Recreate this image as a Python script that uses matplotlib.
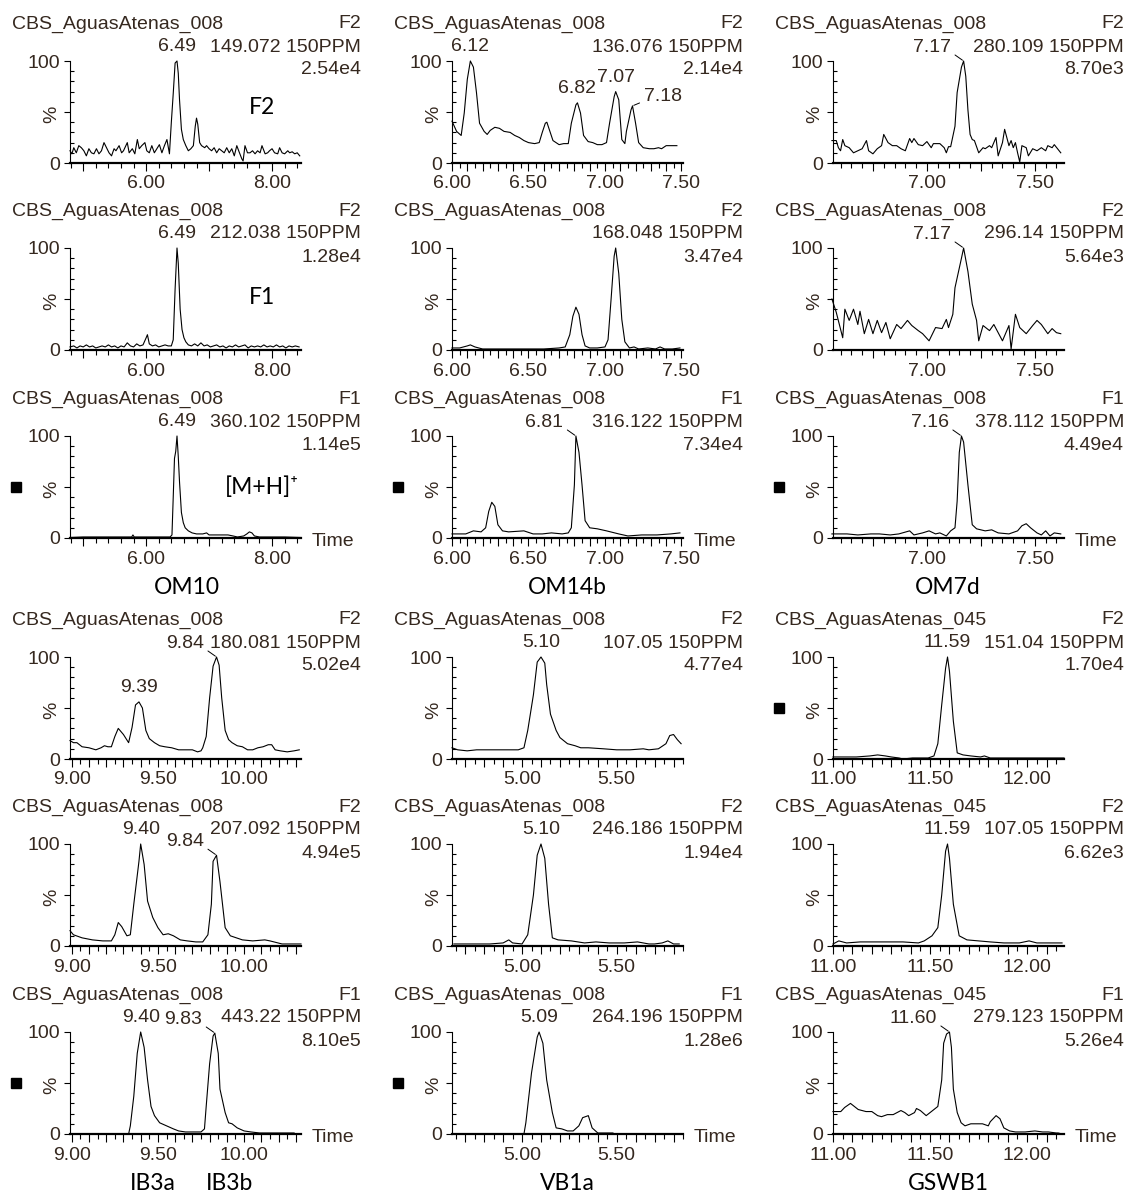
# chromatogram panels (extracted ion traces), 6 rows x 3 columns
import matplotlib.pyplot as plt
from matplotlib.ticker import MultipleLocator, FuncFormatter
from matplotlib.patches import Rectangle

plt.rcParams["font.family"] = ["Liberation Sans", "DejaVu Sans"]

# ========================================
# data: retention time (min) / intensity (%)
# ========================================
# OM10
t_149 = [4.79, 4.82, 4.85, 4.89, 4.93, 4.97, 5.01, 5.05, 5.09, 5.13,
         5.17, 5.21, 5.25, 5.29, 5.33, 5.37, 5.41, 5.45, 5.49, 5.52,
         5.57, 5.61, 5.64, 5.70, 5.73, 5.78, 5.82, 5.86, 5.89, 5.93,
         5.98, 6.01, 6.05, 6.09, 6.13, 6.17, 6.21, 6.25, 6.29, 6.33,
         6.37, 6.40, 6.43, 6.46, 6.49, 6.51, 6.53, 6.56, 6.59, 6.63,
         6.67, 6.71, 6.75, 6.78, 6.80, 6.82, 6.85, 6.88, 6.93, 6.96,
         7.00, 7.04, 7.08, 7.12, 7.16, 7.20, 7.24, 7.28, 7.32, 7.36,
         7.40, 7.44, 7.47, 7.52, 7.54, 7.57, 7.61, 7.65, 7.69, 7.73,
         7.77, 7.81, 7.84, 7.89, 7.93, 7.96, 8.00, 8.04, 8.09, 8.12,
         8.16, 8.20, 8.25, 8.28, 8.32, 8.36, 8.40, 8.44]
i_149 = [12, 9, 15, 10, 17, 15, 12, 7, 14, 10,
         9, 14, 9, 12, 20, 15, 10, 7, 14, 12,
         17, 10, 12, 20, 10, 14, 9, 23, 14, 17,
         20, 12, 10, 17, 10, 14, 18, 10, 17, 23,
         9, 40, 68, 98, 100, 88, 62, 33, 23, 17,
         12, 14, 17, 36, 44, 38, 20, 17, 15, 17,
         14, 12, 15, 10, 14, 12, 10, 15, 10, 14,
         7, 17, 12, 4, 2, 17, 10, 10, 12, 9,
         12, 10, 17, 9, 10, 12, 14, 10, 9, 15,
         10, 9, 12, 10, 11, 9, 10, 7]

t_212 = [4.79, 4.85, 4.90, 4.95, 5.00, 5.05, 5.10, 5.15, 5.20, 5.25,
         5.30, 5.35, 5.40, 5.45, 5.50, 5.55, 5.60, 5.65, 5.70, 5.75,
         5.80, 5.85, 5.90, 5.95, 6.00, 6.02, 6.05, 6.10, 6.15, 6.20,
         6.25, 6.30, 6.35, 6.40, 6.43, 6.46, 6.49, 6.51, 6.54, 6.57,
         6.60, 6.63, 6.67, 6.72, 6.77, 6.82, 6.87, 6.92, 6.97, 7.02,
         7.07, 7.12, 7.17, 7.22, 7.27, 7.32, 7.37, 7.42, 7.47, 7.52,
         7.57, 7.62, 7.67, 7.72, 7.77, 7.82, 7.87, 7.92, 7.97, 8.02,
         8.07, 8.12, 8.17, 8.22, 8.27, 8.32, 8.37, 8.43]
i_212 = [3, 4, 2, 4, 3, 5, 3, 4, 2, 3,
         4, 3, 5, 3, 4, 2, 4, 3, 7, 4,
         3, 6, 4, 5, 12, 15, 6, 4, 5, 3,
         4, 5, 4, 4, 10, 60, 100, 85, 40, 20,
         12, 8, 5, 4, 6, 4, 7, 4, 5, 3,
         4, 5, 3, 4, 2, 4, 3, 5, 3, 4,
         5, 2, 4, 3, 4, 3, 5, 3, 4, 3,
         5, 3, 4, 2, 4, 3, 4, 3]

t_360 = [4.79, 5.00, 5.30, 5.60, 5.77, 5.79, 5.81, 6.00, 6.20, 6.38,
         6.41, 6.43, 6.45, 6.47, 6.49, 6.51, 6.53, 6.56, 6.59, 6.62,
         6.67, 6.73, 6.80, 6.90, 6.96, 7.00, 7.10, 7.20, 7.30, 7.38,
         7.45, 7.55, 7.60, 7.64, 7.68, 7.72, 7.80, 8.00, 8.20, 8.46]
i_360 = [0.5, 1, 1, 1, 1, 3, 1, 1, 1, 1,
         3, 40, 78, 85, 100, 80, 55, 25, 15, 10,
         7, 5, 4, 4, 5, 3, 3, 3, 3, 2,
         1, 2, 4, 6, 5, 2, 1, 1, 1, 0.5]

# OM14b
t_136 = [6.00, 6.03, 6.06, 6.08, 6.10, 6.12, 6.14, 6.16, 6.18, 6.21,
         6.23, 6.25, 6.28, 6.31, 6.34, 6.38, 6.41, 6.44, 6.47, 6.50,
         6.54, 6.57, 6.59, 6.61, 6.62, 6.64, 6.66, 6.70, 6.73, 6.76,
         6.78, 6.81, 6.82, 6.84, 6.86, 6.89, 6.92, 6.95, 6.98, 7.01,
         7.03, 7.06, 7.07, 7.09, 7.11, 7.13, 7.14, 7.17, 7.18, 7.20,
         7.22, 7.25, 7.29, 7.32, 7.35, 7.37, 7.40, 7.43, 7.47]
i_136 = [41, 31, 27, 49, 82, 100, 94, 69, 39, 31,
         28, 32, 35, 34, 31, 30, 27, 25, 22, 20,
         19, 20, 30, 39, 40, 31, 22, 18, 19, 19,
         39, 57, 59, 49, 27, 21, 20, 18, 18, 20,
         39, 65, 70, 62, 23, 19, 31, 52, 56, 39,
         20, 15, 14, 14, 15, 14, 17, 17, 17]

t_168 = [6.00, 6.05, 6.10, 6.12, 6.15, 6.20, 6.30, 6.40, 6.50, 6.60,
         6.70, 6.74, 6.77, 6.79, 6.81, 6.83, 6.85, 6.87, 6.90, 6.95,
         7.00, 7.02, 7.04, 7.06, 7.07, 7.09, 7.11, 7.13, 7.16, 7.19,
         7.22, 7.28, 7.33, 7.36, 7.39, 7.44, 7.49]
i_168 = [2, 2, 4, 5, 3, 1, 1, 1, 1, 1,
         2, 3, 15, 33, 42, 35, 15, 4, 2, 2,
         3, 10, 50, 92, 100, 75, 30, 8, 2, 3,
         1, 2, 1, 3, 1, 1, 2]

t_316 = [6.00, 6.09, 6.14, 6.19, 6.22, 6.24, 6.26, 6.28, 6.30, 6.33,
         6.37, 6.47, 6.53, 6.59, 6.65, 6.72, 6.76, 6.78, 6.80, 6.81,
         6.83, 6.85, 6.87, 6.90, 6.95, 7.01, 7.09, 7.15, 7.24, 7.34,
         7.43, 7.49]
i_316 = [4, 4, 7, 6, 10, 26, 35, 31, 13, 7,
         6, 7, 4, 4, 5, 4, 5, 10, 52, 100,
         84, 52, 17, 10, 9, 7, 4, 2, 3, 3,
         4, 5]

# OM7d
t_280 = [6.56, 6.58, 6.59, 6.60, 6.61, 6.62, 6.64, 6.66, 6.68, 6.70,
         6.72, 6.73, 6.75, 6.77, 6.79, 6.80, 6.82, 6.84, 6.86, 6.88,
         6.90, 6.92, 6.93, 6.94, 6.96, 6.98, 7.00, 7.02, 7.03, 7.06,
         7.08, 7.09, 7.10, 7.11, 7.13, 7.14, 7.16, 7.17, 7.18, 7.19,
         7.20, 7.21, 7.22, 7.24, 7.26, 7.27, 7.29, 7.30, 7.32, 7.33,
         7.35, 7.36, 7.38, 7.39, 7.40, 7.41, 7.42, 7.43, 7.44, 7.46,
         7.47, 7.49, 7.51, 7.53, 7.55, 7.56, 7.58, 7.59, 7.62]
i_280 = [22, 22, 15, 12, 23, 17, 15, 10, 12, 14,
         22, 12, 9, 14, 17, 28, 20, 17, 17, 14,
         12, 24, 20, 24, 18, 17, 21, 15, 19, 19,
         15, 10, 16, 16, 36, 69, 94, 100, 85, 52,
         28, 23, 22, 10, 15, 14, 17, 15, 25, 7,
         20, 33, 17, 22, 15, 20, 10, 1, 17, 15,
         7, 14, 12, 15, 12, 17, 15, 18, 10]

t_296 = [6.56, 6.58, 6.61, 6.62, 6.64, 6.66, 6.68, 6.69, 6.71, 6.73,
         6.75, 6.77, 6.79, 6.81, 6.83, 6.86, 6.88, 6.91, 6.93, 6.96,
         6.98, 7.01, 7.04, 7.07, 7.09, 7.10, 7.12, 7.13, 7.16, 7.17,
         7.19, 7.21, 7.23, 7.24, 7.26, 7.29, 7.31, 7.33, 7.35, 7.38,
         7.39, 7.41, 7.43, 7.46, 7.49, 7.51, 7.53, 7.56, 7.58, 7.60,
         7.62]
i_296 = [50, 37, 12, 40, 29, 40, 25, 38, 16, 30,
         16, 29, 17, 27, 11, 25, 21, 29, 24, 19,
         16, 9, 22, 21, 30, 22, 35, 61, 90, 100,
         77, 45, 29, 9, 24, 19, 25, 17, 9, 24,
         1, 35, 22, 16, 24, 29, 25, 16, 21, 17,
         16]

t_378 = [6.56, 6.63, 6.68, 6.74, 6.78, 6.83, 6.87, 6.92, 6.94, 6.98,
         7.01, 7.04, 7.06, 7.09, 7.11, 7.13, 7.14, 7.15, 7.16, 7.17,
         7.19, 7.21, 7.23, 7.27, 7.30, 7.33, 7.38, 7.42, 7.44, 7.46,
         7.48, 7.51, 7.53, 7.55, 7.57, 7.59, 7.62]
i_378 = [4, 4, 3, 4, 4, 3, 4, 7, 3, 5,
         7, 4, 5, 2, 7, 10, 36, 84, 100, 94,
         52, 13, 9, 7, 8, 5, 4, 7, 12, 14,
         10, 5, 3, 7, 2, 5, 4]

# IB3a / IB3b
t_180 = [8.99, 9.01, 9.03, 9.06, 9.10, 9.14, 9.17, 9.19, 9.21, 9.23,
         9.25, 9.27, 9.30, 9.33, 9.35, 9.37, 9.39, 9.41, 9.43, 9.45,
         9.48, 9.51, 9.54, 9.58, 9.62, 9.66, 9.70, 9.73, 9.75, 9.76,
         9.78, 9.80, 9.82, 9.84, 9.855, 9.87, 9.89, 9.91, 9.93, 9.96,
         9.99, 10.02, 10.05, 10.08, 10.11, 10.14, 10.16, 10.18, 10.21, 10.25,
         10.29, 10.32]
i_180 = [18, 16, 16, 12, 11, 9, 11, 13, 12, 12,
         22, 30, 24, 16, 31, 53, 56, 50, 28, 20,
         16, 13, 12, 11, 9, 9, 9, 7, 8, 11,
         22, 60, 91, 100, 92, 60, 28, 19, 16, 13,
         12, 9, 9, 11, 12, 14, 14, 9, 8, 7,
         8, 9]

t_207 = [8.99, 9.01, 9.06, 9.12, 9.18, 9.23, 9.25, 9.27, 9.29, 9.32,
         9.34, 9.36, 9.39, 9.40, 9.42, 9.44, 9.47, 9.50, 9.53, 9.56,
         9.59, 9.63, 9.67, 9.72, 9.76, 9.79, 9.81, 9.82, 9.84, 9.86,
         9.89, 9.92, 9.99, 10.05, 10.12, 10.15, 10.22, 10.28, 10.33]
i_207 = [15, 11, 8, 6, 5, 5, 11, 23, 19, 10,
         11, 41, 83, 100, 80, 44, 28, 18, 11, 12,
         10, 6, 5, 4, 4, 11, 41, 83, 89, 63,
         18, 10, 6, 5, 6, 5, 2, 2, 2]

t_443 = [8.99, 9.33, 9.34, 9.36, 9.38, 9.40, 9.42, 9.44, 9.46, 9.48,
         9.51, 9.55, 9.59, 9.62, 9.66, 9.70, 9.75, 9.77, 9.78, 9.80,
         9.82, 9.83, 9.85, 9.86, 9.89, 9.91, 9.93, 9.96, 10.00, 10.04,
         10.09, 10.15, 10.22, 10.29]
i_443 = [0, 0, 8, 37, 79, 100, 85, 53, 27, 18,
         11, 8, 5, 3, 2, 2, 2, 5, 27, 69,
         96, 99, 79, 44, 21, 11, 10, 6, 3, 2,
         1, 1, 1, 1]

# VB1a
t_107a = [4.63, 4.66, 4.71, 4.76, 4.83, 4.91, 4.98, 5.01, 5.03, 5.06,
          5.08, 5.10, 5.12, 5.13, 5.15, 5.18, 5.20, 5.24, 5.28, 5.31,
          5.35, 5.43, 5.50, 5.57, 5.64, 5.67, 5.72, 5.76, 5.78, 5.80,
          5.82, 5.84]
i_107a = [11, 9, 8, 9, 9, 9, 9, 11, 28, 63,
          95, 100, 94, 73, 44, 28, 21, 15, 13, 11,
          11, 10, 9, 9, 10, 9, 10, 15, 23, 24,
          19, 15]

t_246 = [4.64, 4.72, 4.83, 4.90, 4.93, 4.95, 5.00, 5.03, 5.06, 5.08,
         5.10, 5.12, 5.14, 5.16, 5.19, 5.26, 5.33, 5.39, 5.46, 5.54,
         5.61, 5.67, 5.70, 5.74, 5.77, 5.80, 5.83]
i_246 = [2, 2, 2, 3, 6, 3, 2, 11, 50, 89,
         100, 86, 41, 8, 6, 5, 3, 4, 3, 3,
         4, 2, 2, 3, 5, 2, 2]

t_264 = [4.63, 5.01, 5.02, 5.05, 5.08, 5.09, 5.11, 5.13, 5.16, 5.18,
         5.21, 5.24, 5.27, 5.30, 5.32, 5.35, 5.37, 5.40, 5.48]
i_264 = [0, 0, 11, 60, 95, 100, 89, 53, 21, 6,
         5, 3, 3, 8, 16, 18, 6, 1, 1]

# GSWB1
t_151 = [11.00, 11.12, 11.19, 11.23, 11.27, 11.30, 11.34, 11.36, 11.41, 11.49,
         11.52, 11.54, 11.56, 11.58, 11.59, 11.60, 11.62, 11.64, 11.67, 11.71,
         11.76, 11.78, 11.81, 11.91, 12.05, 12.19]
i_151 = [2, 2, 3, 4, 3, 2, 1, 0, 1, 1,
         3, 15, 53, 89, 100, 86, 37, 6, 4, 3,
         2, 3, 1, 1, 1, 1]

t_107b = [11.00, 11.03, 11.07, 11.14, 11.25, 11.36, 11.44, 11.47, 11.51, 11.54,
          11.56, 11.58, 11.59, 11.60, 11.62, 11.65, 11.69, 11.75, 11.81, 11.88,
          11.96, 12.01, 12.05, 12.10, 12.18]
i_107b = [2, 5, 3, 4, 4, 4, 3, 5, 10, 18,
          50, 93, 100, 86, 41, 10, 6, 5, 4, 3,
          3, 5, 3, 3, 3]

t_279 = [11.00, 11.04, 11.06, 11.09, 11.11, 11.13, 11.17, 11.20, 11.23, 11.25,
         11.28, 11.31, 11.33, 11.35, 11.37, 11.39, 11.42, 11.43, 11.45, 11.48,
         11.50, 11.52, 11.54, 11.56, 11.57, 11.585, 11.60, 11.61, 11.62, 11.64,
         11.66, 11.68, 11.71, 11.74, 11.77, 11.80, 11.81, 11.84, 11.86, 11.88,
         11.91, 11.94, 11.99, 12.04, 12.08, 12.11, 12.15, 12.16, 12.18]
i_279 = [22, 22, 26, 30, 27, 24, 22, 22, 18, 17,
         19, 19, 21, 23, 21, 18, 21, 25, 23, 18,
         21, 24, 27, 53, 89, 98, 100, 85, 44, 21,
         11, 8, 10, 10, 10, 8, 12, 18, 15, 6,
         3, 2, 2, 3, 2, 2, 1, 1, 0]

# ========================================
# panel info: row, col, trace, sample, function, mass, max intensity
# ========================================
panels = [
    (0, 0, t_149, i_149, "008", "F2", "149.072 150PPM", "2.54e4"),
    (0, 1, t_136, i_136, "008", "F2", "136.076 150PPM", "2.14e4"),
    (0, 2, t_280, i_280, "008", "F2", "280.109 150PPM", "8.70e3"),
    (1, 0, t_212, i_212, "008", "F2", "212.038 150PPM", "1.28e4"),
    (1, 1, t_168, i_168, "008", "F2", "168.048 150PPM", "3.47e4"),
    (1, 2, t_296, i_296, "008", "F2", "296.14 150PPM", "5.64e3"),
    (2, 0, t_360, i_360, "008", "F1", "360.102 150PPM", "1.14e5"),
    (2, 1, t_316, i_316, "008", "F1", "316.122 150PPM", "7.34e4"),
    (2, 2, t_378, i_378, "008", "F1", "378.112 150PPM", "4.49e4"),
    (3, 0, t_180, i_180, "008", "F2", "180.081 150PPM", "5.02e4"),
    (3, 1, t_107a, i_107a, "008", "F2", "107.05 150PPM", "4.77e4"),
    (3, 2, t_151, i_151, "045", "F2", "151.04 150PPM", "1.70e4"),
    (4, 0, t_207, i_207, "008", "F2", "207.092 150PPM", "4.94e5"),
    (4, 1, t_246, i_246, "008", "F2", "246.186 150PPM", "1.94e4"),
    (4, 2, t_107b, i_107b, "045", "F2", "107.05 150PPM", "6.62e3"),
    (5, 0, t_443, i_443, "008", "F1", "443.22 150PPM", "8.10e5"),
    (5, 1, t_264, i_264, "008", "F1", "264.196 150PPM", "1.28e6"),
    (5, 2, t_279, i_279, "045", "F1", "279.123 150PPM", "5.26e4"),
]

# peak labels: (row, col, time, height, text, placement)
peaks = [
    (0, 0, 6.49, 100, "6.49", "c"),
    (0, 1, 6.12, 100, "6.12", "c"),
    (0, 1, 6.82, 59, "6.82", "c"),
    (0, 1, 7.07, 70, "7.07", "c"),
    (0, 1, 7.18, 56, "7.18", "r"),
    (0, 2, 7.17, 100, "7.17", "l"),
    (1, 0, 6.49, 100, "6.49", "c"),
    (1, 2, 7.17, 100, "7.17", "l"),
    (2, 0, 6.49, 100, "6.49", "c"),
    (2, 1, 6.81, 100, "6.81", "l"),
    (2, 2, 7.16, 100, "7.16", "l"),
    (3, 0, 9.39, 56, "9.39", "c"),
    (3, 0, 9.84, 100, "9.84", "l"),
    (3, 1, 5.10, 100, "5.10", "c"),
    (3, 2, 11.59, 100, "11.59", "c"),
    (4, 0, 9.40, 100, "9.40", "c"),
    (4, 0, 9.84, 89, "9.84", "l"),
    (4, 1, 5.10, 100, "5.10", "c"),
    (4, 2, 11.59, 100, "11.59", "c"),
    (5, 0, 9.40, 100, "9.40", "c"),
    (5, 0, 9.83, 99, "9.83", "l"),
    (5, 1, 5.09, 100, "5.09", "c"),
    (5, 2, 11.60, 100, "11.60", "l"),
]

# x axis per block (rows 0-2 / rows 3-5) and column
xlims = {(0, 0): (4.79, 8.46), (0, 1): (6.0, 7.51), (0, 2): (6.565, 7.635),
         (1, 0): (8.99, 10.33), (1, 1): (4.63, 5.85), (1, 2): (11.0, 12.19)}
xticks = {(0, 0): (1.0, 0.2, [6.0, 8.0]),
          (0, 1): (0.1, 0.05, [6.0, 6.5, 7.0, 7.5]),
          (0, 2): (0.25, 0.05, [7.0, 7.5]),
          (1, 0): (0.1, 0.05, [9.0, 9.5, 10.0]),
          (1, 1): (0.1, 0.05, [5.0, 5.5]),
          (1, 2): (0.1, 0.05, [11.0, 11.5, 12.0])}

compounds = [("OM10", 187, 588), ("OM14b", 567, 588), ("OM7d", 948, 588),
             ("IB3a", 153, 1184), ("IB3b", 230, 1184), ("VB1a", 567, 1184),
             ("GSWB1", 948, 1184)]
squares = [(2, 0), (2, 1), (2, 2), (3, 2), (5, 0), (5, 1)]

# ========================================
# layout (pixels)
# ========================================
W, H = 1126, 1195
TXT = "#35281f"
col_x = [70, 452, 833]
row_top = [61, 248, 436, 657, 844, 1032]
AX_W, AX_H = 231, 102
FS = 14

fig = plt.figure(figsize=(W / 100, H / 100), dpi=100)


def ftext(x, y, s, **kw):
    fig.text(x / W, 1 - y / H, s, **kw)


def make_fmt(labels):
    return FuncFormatter(
        lambda v, p: f"{v:.2f}" if min(abs(v - l) for l in labels) < 1e-6 else "")


axes = {}
for r, c, t, inten, run, fn, mass, imax in panels:
    x0, y0 = col_x[c], row_top[r]
    ax = fig.add_axes([x0 / W, 1 - (y0 + AX_H) / H, AX_W / W, AX_H / H])
    axes[(r, c)] = ax
    ax.plot(t, inten, color="black", lw=0.8, clip_on=False)

    blk = (r // 3, c)
    ax.set_xlim(*xlims[blk])
    ax.set_ylim(0, 100)
    major, minor, labs = xticks[blk]
    ax.xaxis.set_major_locator(MultipleLocator(major))
    ax.xaxis.set_minor_locator(MultipleLocator(minor))
    ax.xaxis.set_major_formatter(make_fmt(labs))
    ax.set_yticks([0, 50, 100], ["0", "%", "100"])
    ax.get_yticklabels()[1].set_rotation(90)
    ax.yaxis.set_minor_locator(MultipleLocator(10))

    for s in ["top", "right"]:
        ax.spines[s].set_visible(False)
    ax.spines["left"].set_linewidth(0.8)
    ax.spines["bottom"].set_linewidth(1.6)
    ax.tick_params(axis="x", which="major", direction="out", length=6,
                   width=0.8, pad=3, labelsize=FS, labelcolor=TXT)
    ax.tick_params(axis="x", which="minor", direction="out", length=3.5, width=0.8)
    ax.tick_params(axis="y", which="major", direction="out", length=4,
                   width=0.8, pad=3, labelsize=FS, labelcolor=TXT)
    ax.tick_params(axis="y", which="minor", direction="in", length=3, width=0.8)
    ax.patch.set_alpha(0)

    # header text
    ftext(x0 - 58, y0 - 37, "CBS_AguasAtenas_" + run, fontsize=FS, color=TXT,
          ha="left", va="center")
    ftext(x0 + 291, y0 - 37, fn, fontsize=FS, color=TXT, ha="right", va="center")
    ftext(x0 + 291, y0 - 14, mass, fontsize=FS, color=TXT, ha="right", va="center")
    ftext(x0 + 291, y0 + 9, imax, fontsize=FS, color=TXT, ha="right", va="center")
    if r in (2, 5):
        ftext(x0 + AX_W + 11, y0 + AX_H + 4, "Time", fontsize=FS, color=TXT,
              ha="left", va="center")

# peak labels
for r, c, tp, hp, txt, mode in peaks:
    ax = axes[(r, c)]
    if mode == "c":
        ax.annotate(txt, xy=(tp, hp), xytext=(0, 4), textcoords="offset points",
                    ha="center", va="bottom", fontsize=FS, color=TXT,
                    annotation_clip=False)
    elif mode == "l":
        ax.annotate(txt, xy=(tp, hp), xytext=(-9, 10), textcoords="offset points",
                    ha="right", va="center", fontsize=FS, color=TXT,
                    annotation_clip=False,
                    arrowprops=dict(arrowstyle="-", lw=0.7, color="black",
                                    relpos=(1.0, 0.2), shrinkA=1, shrinkB=1))
    else:
        ax.annotate(txt, xy=(tp, hp), xytext=(8, 7), textcoords="offset points",
                    ha="left", va="center", fontsize=FS, color=TXT,
                    annotation_clip=False,
                    arrowprops=dict(arrowstyle="-", lw=0.7, color="black",
                                    relpos=(0.0, 0.2), shrinkA=1, shrinkB=1))

# ion labels in the first column
big = dict(fontsize=16.5, family=["Lato", "DejaVu Sans"], color="black",
           ha="center", va="center")
ftext(262, 108, "F2", **big)
ftext(262, 297, "F1", **big)
ftext(262, 487, "[M+H]\u207a", **big)
for name, x, y in compounds:
    ftext(x, y, name, **big)

# small black squares next to the matched traces
for r, c in squares:
    cx = col_x[c] - 54
    cy = row_top[r] + AX_H / 2
    fig.add_artist(Rectangle(((cx - 5) / W, 1 - (cy + 5) / H), 10 / W, 10 / H,
                             transform=fig.transFigure, color="black"))

fig.savefig("out.png", dpi=100, facecolor="white")
